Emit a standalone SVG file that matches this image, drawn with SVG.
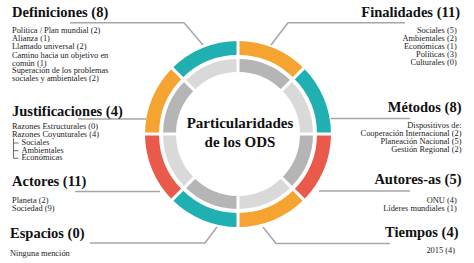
<svg xmlns="http://www.w3.org/2000/svg" width="474" height="263" viewBox="0 0 474 263">
<style>
.h{font-family:"Liberation Serif","Times New Roman",serif;font-weight:bold;font-size:14.5px;fill:#111}
.b{font-family:"Liberation Serif","Times New Roman",serif;font-size:8.4px;fill:#222}
.e{text-anchor:end}
.c{font-family:"Liberation Serif","Times New Roman",serif;font-weight:bold;font-size:15px;fill:#111;text-anchor:middle}
.ln{fill:none;stroke:#a6a6a6;stroke-width:1.5}
.o{fill:none;stroke-width:14}
.i{fill:none;stroke-width:13}
.or{stroke:#f5a331}.te{stroke:#21b0b2}.re{stroke:#e95a4a}.dg{stroke:#b5b5b5}.lg{stroke:#d9d9d9}
.sep{stroke:#fff;stroke-width:3}
</style>
<rect width="474" height="263" fill="#fff"/>
<g id="ring">
<path class="o or" d="M238,48 A86,86 0 0 1 298.81,73.19"/>
<path class="o te" d="M298.81,73.19 A86,86 0 0 1 324,134"/>
<path class="o re" d="M324,134 A86,86 0 0 1 298.81,194.81"/>
<path class="o or" d="M298.81,194.81 A86,86 0 0 1 238,220"/>
<path class="o te" d="M238,220 A86,86 0 0 1 177.19,194.81"/>
<path class="o re" d="M177.19,194.81 A86,86 0 0 1 152,134"/>
<path class="o or" d="M152,134 A86,86 0 0 1 177.19,73.19"/>
<path class="o te" d="M177.19,73.19 A86,86 0 0 1 238,48"/>
<path class="i dg" d="M238,65.5 A68.5,68.5 0 0 1 286.44,85.56"/>
<path class="i lg" d="M286.44,85.56 A68.5,68.5 0 0 1 306.5,134"/>
<path class="i dg" d="M306.5,134 A68.5,68.5 0 0 1 286.44,182.44"/>
<path class="i lg" d="M286.44,182.44 A68.5,68.5 0 0 1 238,202.5"/>
<path class="i dg" d="M238,202.5 A68.5,68.5 0 0 1 189.56,182.44"/>
<path class="i lg" d="M189.56,182.44 A68.5,68.5 0 0 1 169.5,134"/>
<path class="i dg" d="M169.5,134 A68.5,68.5 0 0 1 189.56,85.56"/>
<path class="i lg" d="M189.56,85.56 A68.5,68.5 0 0 1 238,65.5"/>
<line class="sep" x1="238" y1="37" x2="238" y2="231"/>
<line class="sep" x1="141" y1="134" x2="335" y2="134"/>
<line class="sep" x1="169.4" y1="65.4" x2="306.6" y2="202.6"/>
<line class="sep" x1="306.6" y1="65.4" x2="169.4" y2="202.6"/>
</g>
<g id="center">
<text class="c" x="240" y="128">Particularidades</text>
<text class="c" x="240" y="147">de los ODS</text>
</g>
<g id="connectors">
<polyline class="ln" points="70,22.7 184,22.7 203,45"/>
<polyline class="ln" points="405,22.7 288,22.7 271,45"/>
<polyline class="ln" points="78,119 146,119"/>
<polyline class="ln" points="410,118.5 331,118.5"/>
<polyline class="ln" points="75,191.5 160,191.5"/>
<polyline class="ln" points="410,191 319,191"/>
<polyline class="ln" points="90,243 205,243 217,227"/>
<polyline class="ln" points="390,243.5 276,243.5 263,227"/>
</g>
<g id="definiciones">
<text class="h" x="12" y="16.5">Definiciones (8)</text>
<text class="b" x="12" y="33">Política / Plan mundial (2)</text>
<text class="b" x="12" y="41.2">Alianza (1)</text>
<text class="b" x="12" y="49.4">Llamado universal (2)</text>
<text class="b" x="12" y="57.6">Camino hacia un objetivo en</text>
<text class="b" x="12" y="65.5">común (1)</text>
<text class="b" x="12" y="73.4">Superación de los problemas</text>
<text class="b" x="12" y="81.4">sociales y ambientales (2)</text>
</g>
<g id="justificaciones">
<text class="h" x="12" y="116">Justificaciones (4)</text>
<text class="b" x="12" y="129.3">Razones Estructurales (0)</text>
<text class="b" x="12" y="137">Razones Coyunturales (4)</text>
<path d="M13.5,138.5 V158.3 M13.5,143 H18.5 M13.5,150.7 H18.5 M13.5,158.3 H18.5" fill="none" stroke="#444" stroke-width="0.8"/>
<text class="b" x="21.5" y="145">Sociales</text>
<text class="b" x="21.5" y="152.7">Ambientales</text>
<text class="b" x="21.5" y="160.4">Económicas</text>
</g>
<g id="actores">
<text class="h" x="12" y="186">Actores (11)</text>
<text class="b" x="12" y="202.7">Planeta (2)</text>
<text class="b" x="12" y="210.7">Sociedad (9)</text>
</g>
<g id="espacios">
<text class="h" x="10" y="238">Espacios (0)</text>
<text class="b" x="10" y="256">Ninguna mención</text>
</g>
<g id="finalidades">
<text class="h e" x="460" y="16.7">Finalidades (11)</text>
<text class="b e" x="456.7" y="33.3">Sociales (5)</text>
<text class="b e" x="456.7" y="41.2">Ambientales (2)</text>
<text class="b e" x="456.7" y="49">Económicas (1)</text>
<text class="b e" x="456.7" y="56.9">Políticas (3)</text>
<text class="b e" x="456.7" y="64.8">Culturales (0)</text>
</g>
<g id="metodos">
<text class="h e" x="461.5" y="111.5">Métodos (8)</text>
<text class="b e" x="461.5" y="128.3">Dispositivos de:</text>
<text class="b e" x="461.5" y="136.1">Cooperación Internacional (2)</text>
<text class="b e" x="461.5" y="144">Planeación Nacional (5)</text>
<text class="b e" x="461.5" y="151.8">Gestión Regional (2)</text>
</g>
<g id="autores">
<text class="h e" x="461.5" y="183.5">Autores-as (5)</text>
<text class="b e" x="456.7" y="202.8">ONU (4)</text>
<text class="b e" x="456.7" y="210.6">Líderes mundiales (1)</text>
</g>
<g id="tiempos">
<text class="h e" x="458.5" y="236.5">Tiempos (4)</text>
<text class="b e" x="455" y="253.3">2015 (4)</text>
</g>
</svg>
